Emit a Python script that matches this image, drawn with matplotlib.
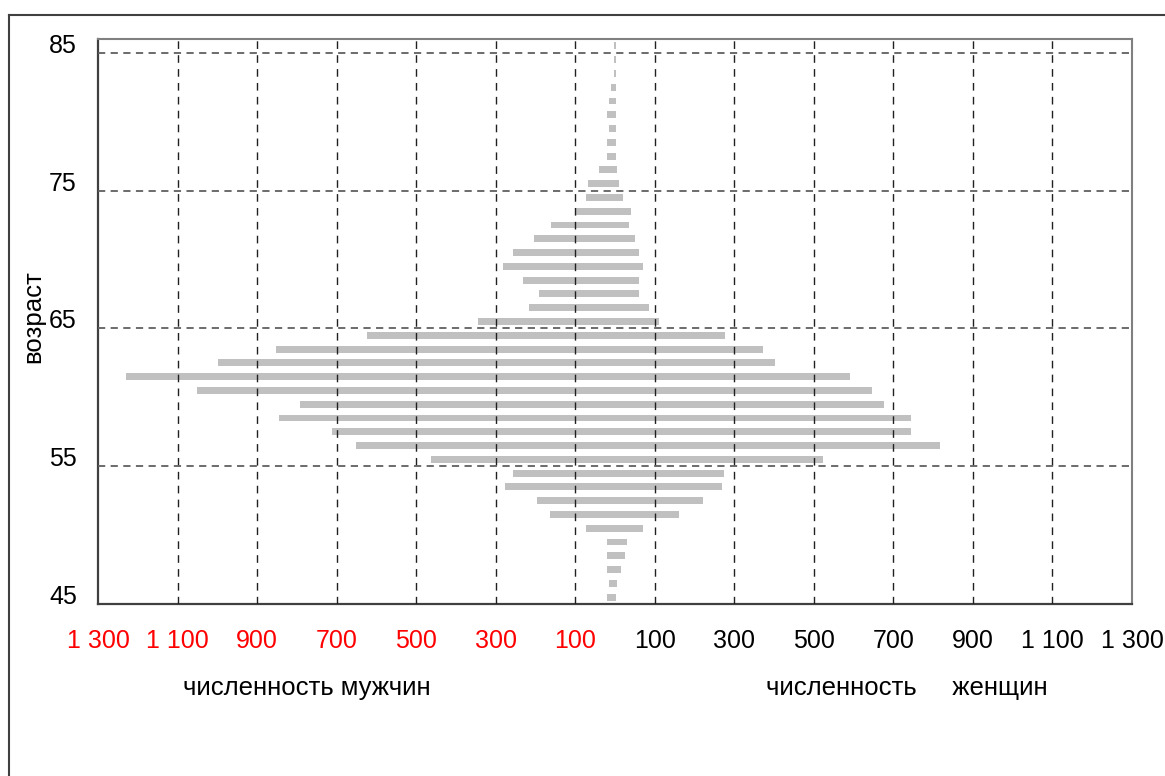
import matplotlib
matplotlib.use("Agg")
import matplotlib.pyplot as plt
from matplotlib.lines import Line2D
from matplotlib.transforms import blended_transform_factory
import numpy as np

plt.rcParams['font.family'] = ['Liberation Sans', 'DejaVu Sans']

# ===================== DADOS =====================
idades = [45, 46, 47, 48, 49, 50, 51, 52, 53, 54,
          55, 56, 57, 58, 59, 60, 61, 62, 63, 64,
          65, 66, 67, 68, 69, 70, 71, 72, 73, 74,
          75, 76, 77, 78, 79, 80, 81, 82, 83, 84, 85]

homens = [19, 14, 19, 19, 21, 74, 163, 195, 276, 256,
          463, 652, 712, 845, 792, 1052, 1229, 999, 853, 624,
          344, 215, 190, 231, 281, 256, 203, 160, 99, 74,
          69, 39, 19, 21, 14, 19, 14, 9, 3, 3, 3]

mulheres = [3, 4, 15, 26, 31, 70, 162, 222, 268, 273,
            524, 817, 745, 745, 676, 645, 590, 403, 372, 277,
            110, 86, 61, 61, 70, 61, 50, 35, 41, 21,
            10, 4, 3, 3, 3, 3, 3, 3, 2, 2, 2]

ticks_x = [-1300, -1100, -900, -700, -500, -300, -100,
           100, 300, 500, 700, 900, 1100, 1300]
rotulos_x = ["1 300", "1 100", "900", "700", "500", "300", "100",
             "100", "300", "500", "700", "900", "1 100", "1 300"]
ticks_y = [45, 55, 65, 75, 85]

W, H = 1165, 776
fig = plt.figure(figsize=(W / 100, H / 100), dpi=100)

# moldura externa
fig.add_artist(Line2D([9 / W, 9 / W], [0, 1 - 15 / H], transform=fig.transFigure,
                      color='#404040', lw=1.5))
fig.add_artist(Line2D([9 / W, 1], [1 - 15 / H, 1 - 15 / H], transform=fig.transFigure,
                      color='#404040', lw=1.5))

ax = fig.add_axes([98 / W, 1 - 604 / H, (1132 - 98) / W, (604 - 39) / H])

y = np.array(idades) + 0.5
ax.barh(y, -np.array(homens), height=0.5, color='#c0c0c0', zorder=2)
ax.barh(y, mulheres, height=0.5, color='#c0c0c0', zorder=2)

ax.set_xlim(-1300, 1300)
ax.set_ylim(45, 86)

# grade tracejada
for gx in ticks_x[1:-1]:
    ax.axvline(gx, color='#202020', lw=1, ls=(0, (5.5, 4.5)), zorder=3)
for gy in ticks_y[1:]:
    ax.axhline(gy, color='#606060', lw=1.3, ls=(0, (4, 3)), zorder=3)

ax.set_xticks([])
ax.set_yticks([])
for s in ['left', 'bottom']:
    ax.spines[s].set_color('#404040')
    ax.spines[s].set_linewidth(1.6)
for s in ['top', 'right']:
    ax.spines[s].set_color('#808080')
    ax.spines[s].set_linewidth(1.5)

trx = blended_transform_factory(ax.transData, ax.transAxes)
for xv, lab in zip(ticks_x, rotulos_x):
    cor = 'red' if xv < 0 else 'black'
    ax.text(xv, (604 - 641) / 565, lab, transform=trx, ha='center', va='center',
            fontsize=18, color=cor, clip_on=False)

tr_y = blended_transform_factory(ax.transAxes, ax.transData)
for yv in ticks_y:
    ax.text((77 - 98) / 1034, yv, str(yv), transform=tr_y, ha='right', va='baseline',
            fontsize=18, color='black', clip_on=False)

fig.text(307 / W, 1 - 688 / H, "численность мужчин", ha='center', va='center', fontsize=18.5)
fig.text(907 / W, 1 - 688 / H, "численность     женщин", ha='center', va='center', fontsize=18.5)
fig.text(33 / W, 1 - 317 / H, "возраст", ha='center', va='center', rotation=90, fontsize=18.5)

fig.savefig("out.png", dpi=100)
